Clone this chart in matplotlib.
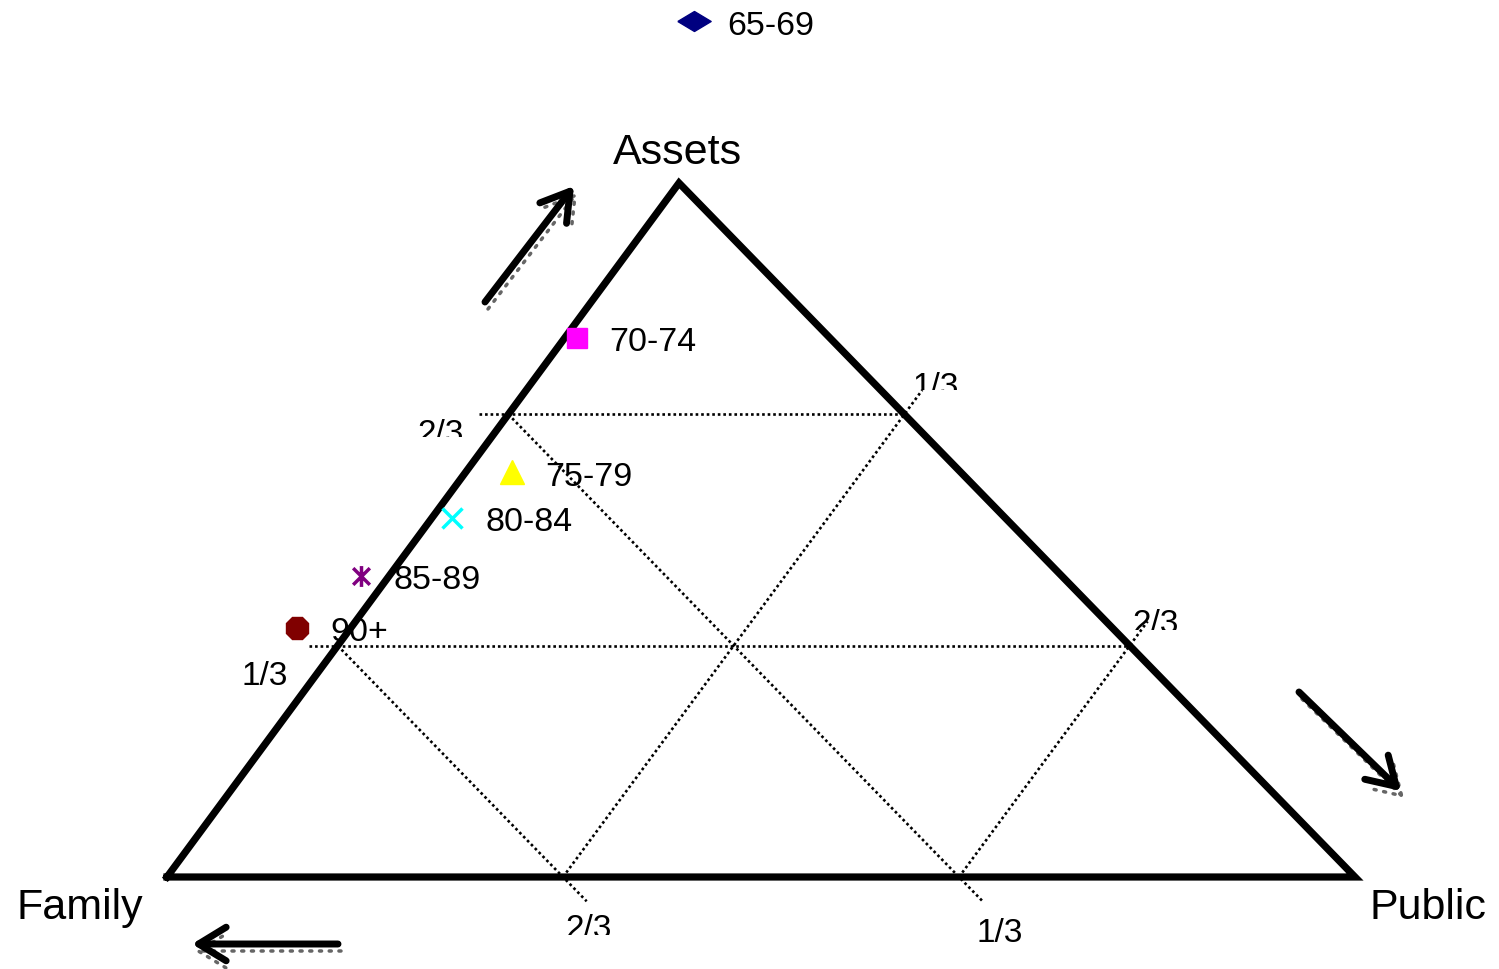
import matplotlib
matplotlib.use("Agg")
import matplotlib.pyplot as plt
import numpy as np
from matplotlib.path import Path
from matplotlib.transforms import Bbox

plt.rcParams["font.family"] = ["Liberation Sans", "DejaVu Sans"]

# ternary shares (family, public, assets) per age group
groups = ["65-69", "70-74", "75-79", "80-84", "85-89", "90+"]
family = [-0.145, 0.213, 0.378, 0.465, 0.590, 0.686]
public = [-0.088, 0.010, 0.039, 0.017, -0.024, -0.045]
assets = [1.233, 0.777, 0.583, 0.518, 0.434, 0.359]

grid_levels = [1 / 3, 2 / 3]
grid_labels = ["1/3", "2/3"]
corner_labels = ["Family", "Public", "Assets"]

# marker styles for each group
star = Path([(-1, -1), (1, 1), (-1, 1), (1, -1), (0, -1.25), (0, 1.25)],
            [Path.MOVETO, Path.LINETO, Path.MOVETO, Path.LINETO, Path.MOVETO, Path.LINETO])
diamond = Path([(-1, 0), (0, 0.6), (1, 0), (0, -0.6), (-1, 0)])
styles = [
    dict(marker=diamond, color="#000080", ms=24),
    dict(marker="s", color="#ff00ff", ms=15),
    dict(marker="^", color="#ffff00", ms=17),
    dict(marker="x", color="#00ffff", ms=15, mew=2.5),
    dict(marker=star, color="#800080", ms=15, mew=2.5),
    dict(marker="8", color="#800000", ms=17),
]

# triangle corners on the canvas (pixels): family, public, assets
F = np.array([167.0, 877.0])
P = np.array([1355.0, 877.0])
A = np.array([679.0, 183.0])


def to_xy(f, p, a):
    return f * F[0] + p * P[0] + a * A[0], f * F[1] + p * P[1] + a * A[1]


fig = plt.figure(figsize=(14.99, 9.69), dpi=100)
ax = fig.add_axes([0, 0, 1, 1])
ax.set_xlim(0, 1499)
ax.set_ylim(969, 0)
ax.axis("off")

# triangle outline
tri = np.array([F, P, A, F])
ax.plot(tri[:, 0], tri[:, 1], color="black", lw=5.2, solid_joinstyle="miter", zorder=3)

ext = 0.035
grid_kw = dict(color="black", lw=1.9, ls=(0, (1, 1.1)), zorder=2)
for lev in grid_levels:
    # constant assets: horizontal, sticks out past the left edge
    x0, y0 = to_xy(1 - lev + ext * 0.7, -ext * 0.7, lev)
    x1, y1 = to_xy(0, 1 - lev, lev)
    ax.plot([x0, x1], [y0, y1], **grid_kw)
    # constant family: sticks out past the bottom edge
    x0, y0 = to_xy(lev, 0, 1 - lev)
    x1, y1 = to_xy(lev, 1 - lev + ext, -ext)
    ax.plot([x0, x1], [y0, y1], **grid_kw)
    # constant public: sticks out past the right edge
    x0, y0 = to_xy(1 - lev, lev, 0)
    x1, y1 = to_xy(-ext, lev, 1 - lev + ext)
    ax.plot([x0, x1], [y0, y1], **grid_kw)

# grid value labels (some are cut off at the bottom as in the source)
tick_kw = dict(fontsize=24, ha="center", va="center")
H = 969


def clipped(x, y, s, cut):
    t = ax.text(x, y, s, **tick_kw)
    if cut is not None:
        t.set_clip_box(Bbox.from_extents(0, H - cut, 1499, H))
        t.set_clip_on(True)


# offsets / clipping of each label: (assets side, family side, public side)
lab_pos = {
    "1/3": [(-73, 31, None), (41, 56, None), (31, -27, 390)],
    "2/3": [(-68, 20, 437), (26, 53, 935), (26, -21, 630)],
}
for lev, lab in zip(grid_levels, grid_labels):
    (ax_, ay_, ac), (bx_, by_, bc), (cx_, cy_, cc) = lab_pos[lab]
    x, y = to_xy(1 - lev, 0, lev)
    clipped(x + ax_, y + ay_, lab, ac)
    x, y = to_xy(lev, 1 - lev, 0)
    clipped(x + bx_, y + by_, lab, bc)
    x, y = to_xy(0, lev, 1 - lev)
    clipped(x + cx_, y + cy_, lab, cc)

# corner labels
ax.text(F[0] - 87, F[1] + 31, corner_labels[0], fontsize=31, ha="center", va="center")
ax.text(P[0] + 73, P[1] + 31, corner_labels[1], fontsize=31, ha="center", va="center")
ax.text(A[0] - 2, A[1] - 30, corner_labels[2], fontsize=31, ha="center", va="center")

# direction arrows with a dotted shadow
arrows = [((485, 302), (574, 186)), ((1299, 692), (1401, 791)), ((338, 944), (192, 944))]
for tail, tip in arrows:
    for dx, dy, col, lw, ls in [(3, 7, "#666666", 2.5, (0, (0.6, 2.2))), (0, 0, "black", 5, "-")]:
        ax.annotate("", xy=(tip[0] + dx, tip[1] + dy), xytext=(tail[0] + dx, tail[1] + dy),
                    arrowprops=dict(arrowstyle="->,head_length=0.9,head_width=0.55",
                                    color=col, lw=lw, ls=ls, mutation_scale=22,
                                    shrinkA=0, shrinkB=0), zorder=4)

# data points with labels
for g, f, p, a, st in zip(groups, family, public, assets, styles):
    x, y = to_xy(f, p, a)
    st = dict(st)
    col = st.pop("color")
    ax.plot([x], [y], ls="none", mfc=col, mec=col, clip_on=False, zorder=5, **st)
    ax.annotate(g, (x, y), xytext=(33, -5), textcoords="offset pixels",
                fontsize=24.5, va="center", ha="left", zorder=6)

fig.savefig("out.png", dpi=100)
